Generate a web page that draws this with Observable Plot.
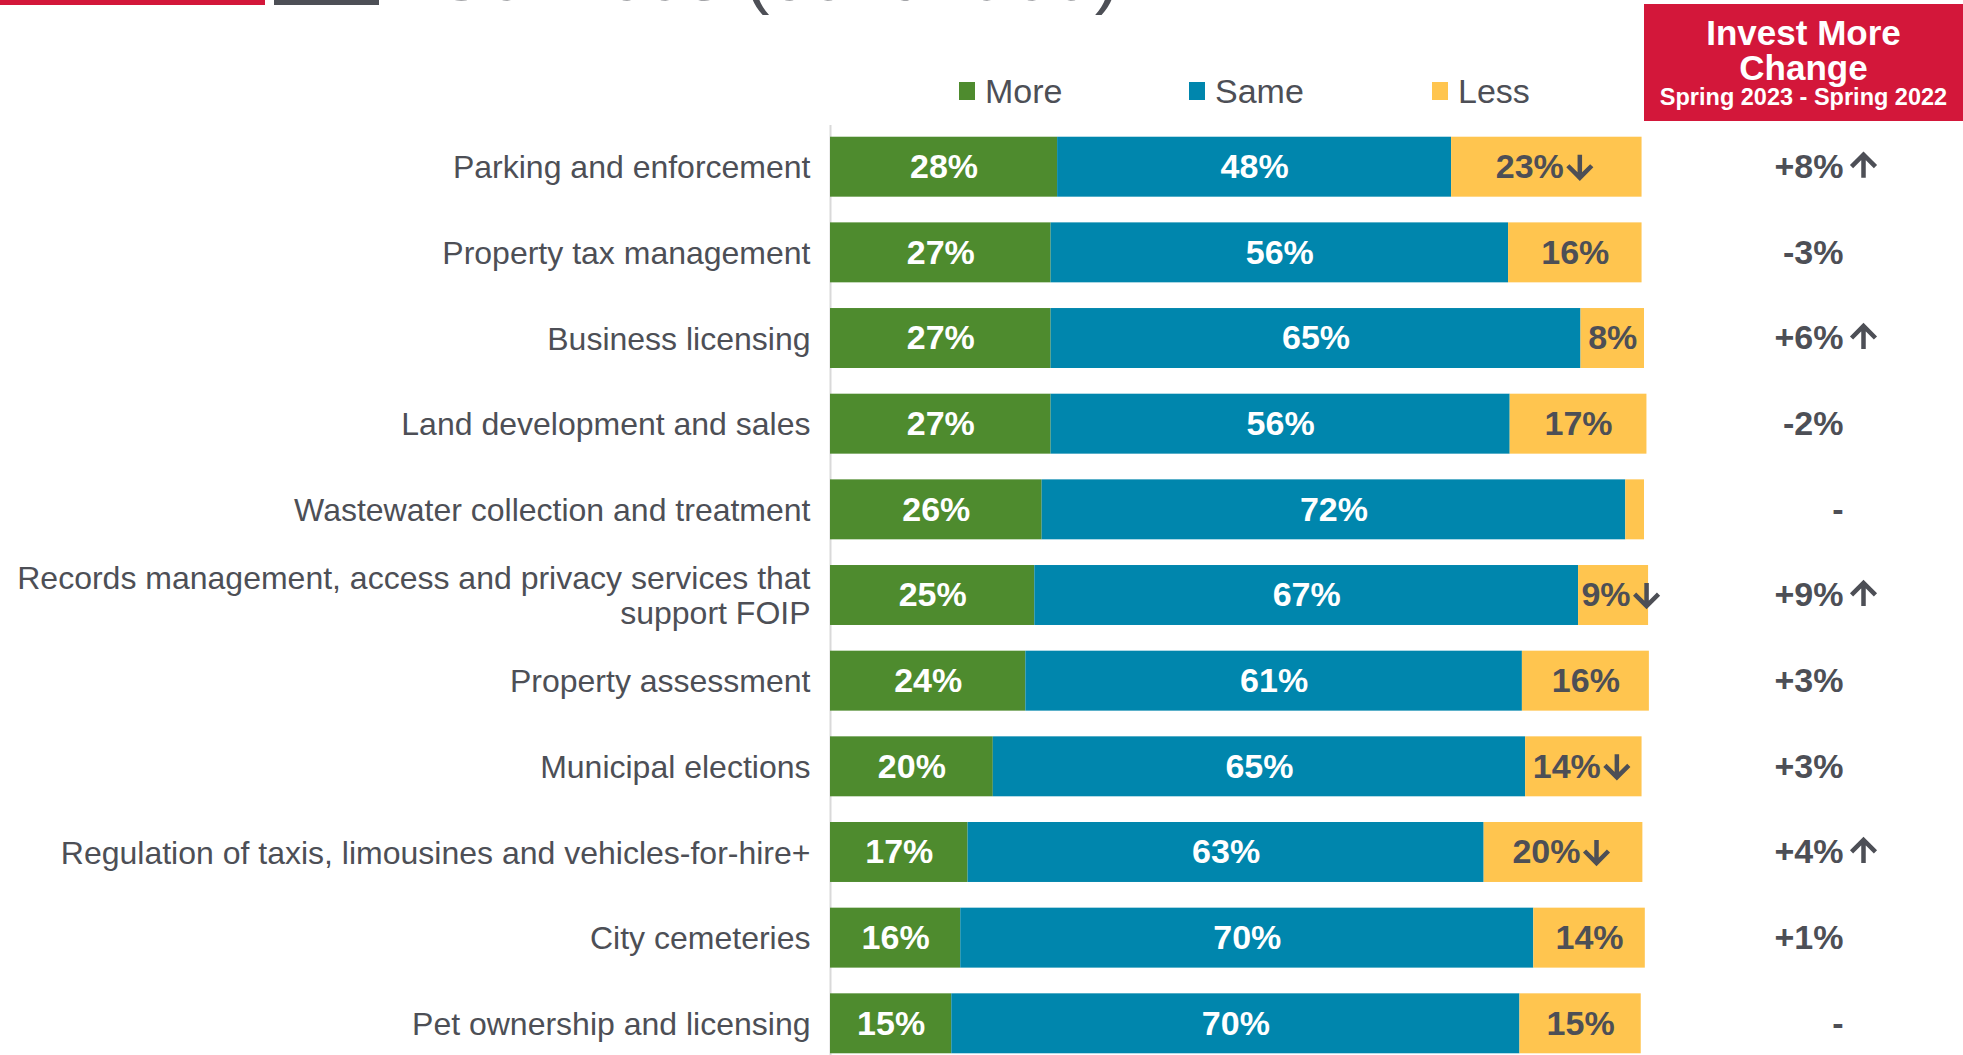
<!DOCTYPE html>
<html>
<head>
<meta charset="utf-8">
<script src="https://cdn.jsdelivr.net/npm/d3@7"></script>
<script src="https://cdn.jsdelivr.net/npm/@observablehq/plot@0.6"></script>
<style>
  html, body { margin: 0; padding: 0; background: #ffffff; }
  body { font-family: "Liberation Sans", Arial, sans-serif; color: #4D4F56; }
  #wrap { position: relative; width: 1963px; height: 1055px; overflow: hidden; }
  #chart { position: absolute; left: 0; top: 0; }
  .deco1 { position: absolute; left: 0; top: 0; width: 265px; height: 5px; background: #D3173A; }
  .deco2 { position: absolute; left: 274px; top: 0; width: 105px; height: 5px; background: #4D4F56; }
  .title { position: absolute; left: 436px; top: -63px; font-size: 75px; line-height: 75px; white-space: nowrap; color: #4D4F56; }
  .legend-item { position: absolute; top: 71px; height: 40px; display: flex; align-items: center; font-size: 34px; white-space: nowrap; color: #4D4F56; }
  .legend-item .sw { width: 16px; height: 18px; margin-right: 10px; }
  .box { position: absolute; left: 1644px; top: 4px; width: 319px; height: 117px; background: #D3173A; color: #fff; font-weight: bold; }
  .box div { position: absolute; left: 0; width: 100%; text-align: center; white-space: nowrap; }
</style>
</head>
<body>
<div id="wrap">
  <div class="deco1"></div>
  <div class="deco2"></div>
  <div class="title">Services (continued)</div>
  <div id="legend"></div>
  <div class="box">
    <div style="top:13px;font-size:35px;line-height:31px;">Invest More</div>
    <div style="top:48px;font-size:35px;line-height:31px;">Change</div>
    <div style="top:82px;font-size:23.5px;line-height:23px;">Spring 2023 - Spring 2022</div>
  </div>
  <div id="chart"></div>
</div>
<script>
// ---------- data ----------
const categories = [
  "Parking and enforcement",
  "Property tax management",
  "Business licensing",
  "Land development and sales",
  "Wastewater collection and treatment",
  "Records management, access and privacy services that\nsupport FOIP",
  "Property assessment",
  "Municipal elections",
  "Regulation of taxis, limousines and vehicles-for-hire+",
  "City cemeteries",
  "Pet ownership and licensing"
];
const seriesNames = ["More", "Same", "Less"];
const seriesColors = ["#4E8B2E", "#0086AD", "#FFC54F"];

const more = [27.9, 27.1, 27.1, 27.1, 26.0, 25.1, 24.0, 20.0, 16.9, 16.0, 14.9];
const same = [48.4, 56.2, 65.1, 56.4, 71.7, 66.8, 61.0, 65.4, 63.4, 70.4, 69.8];
const less = [23.4, 16.4, 7.8, 16.8, 2.3, 8.6, 15.6, 14.3, 19.5, 13.7, 14.9];

const moreLabels = ["28%", "27%", "27%", "27%", "26%", "25%", "24%", "20%", "17%", "16%", "15%"];
const sameLabels = ["48%", "56%", "65%", "56%", "72%", "67%", "61%", "65%", "63%", "70%", "70%"];
const lessLabels = ["23%", "16%", "8%", "17%", "", "9%", "16%", "14%", "20%", "14%", "15%"];
const lessDown = [true, false, false, false, false, true, false, true, true, false, false];

const changeLabels = ["+8%", "-3%", "+6%", "-2%", "-", "+9%", "+3%", "+3%", "+4%", "+1%", "-"];
const changeUp = [true, false, true, false, false, true, false, false, true, false, false];

// ---------- build tables ----------
const textGray = "#4D4F56";
const rows = [];
categories.forEach((c, i) => rows.push({cat: c, series: "More", value: more[i], label: moreLabels[i], down: false}));
categories.forEach((c, i) => rows.push({cat: c, series: "Same", value: same[i], label: sameLabels[i], down: false}));
categories.forEach((c, i) => rows.push({cat: c, series: "Less", value: less[i], label: lessLabels[i], down: lessDown[i]}));
const changes = categories.map((c, i) => ({cat: c, text: changeLabels[i], up: changeUp[i]}));

// ---------- legend ----------
const legendLeft = [959, 1189, 1432];
const legend = document.getElementById("legend");
seriesNames.forEach((s, i) => {
  const item = document.createElement("div");
  item.className = "legend-item";
  item.style.left = legendLeft[i] + "px";
  const sw = document.createElement("span");
  sw.className = "sw";
  sw.style.background = seriesColors[i];
  item.appendChild(sw);
  item.appendChild(document.createTextNode(s));
  legend.appendChild(item);
});

// ---------- chart ----------
// open-chevron arrow shape (points "up" before rotation); nothing drawn for zero length
const chevronArrow = {
  draw(context, l) {
    if (!(l > 0)) return;
    const w = l * 0.52;
    context.moveTo(0, 0);
    context.lineTo(0, -l + 1);
    context.moveTo(-w, w - l);
    context.lineTo(0, -l);
    context.lineTo(w, w - l);
  }
};
const arrowStyle = {shape: chevronArrow, stroke: textGray, strokeWidth: 4.5, strokeLinejoin: "miter", strokeLinecap: "butt"};

const stackOpts = {x: "value", y: "cat", z: "series", order: seriesNames};
const valueFont = {fontSize: 34, fontWeight: "bold"};
const chart = Plot.plot({
  width: 1963,
  height: 1055,
  marginLeft: 830,
  marginRight: 319,
  marginTop: 135,
  marginBottom: 0,
  style: {fontFamily: "'Liberation Sans', Arial, sans-serif", background: "transparent", overflow: "visible"},
  x: {domain: [0, 100], axis: null},
  y: {domain: categories, paddingInner: 0.3, paddingOuter: 0.02, round: false, label: null, axis: null},
  color: {domain: seriesNames, range: seriesColors},
  length: {type: "identity"},
  marks: [
    Plot.ruleX([0], {stroke: "#D9D9D9", strokeWidth: 2, insetTop: -10}),
    Plot.barX(rows, Plot.stackX({...stackOpts, fill: "series"})),
    // white labels in More / Same segments
    Plot.text(rows, Plot.stackX({...stackOpts, text: d => d.series === "Less" ? "" : d.label,
      fill: "white", ...valueFont})),
    // Less labels without arrow (centered)
    Plot.text(rows, Plot.stackX({...stackOpts, text: d => d.series === "Less" && !d.down ? d.label : "",
      fill: textGray, ...valueFont})),
    // Less labels with arrow: digits then arrow
    Plot.text(rows, Plot.stackX({...stackOpts, text: d => d.series === "Less" && d.down ? d.label : "",
      fill: textGray, textAnchor: "end", dx: 17, ...valueFont})),
    Plot.vector(rows, Plot.stackX({...stackOpts, length: d => d.series === "Less" && d.down ? 23 : 0,
      rotate: 180, dx: 33, dy: -1, ...arrowStyle})),
    Plot.axisY({tickSize: 0, tickPadding: 20, fontSize: 32, fill: textGray, lineHeight: 1.1, label: null}),
    Plot.text(changes, {y: "cat", text: "text", frameAnchor: "right", dx: 199, textAnchor: "end",
      fill: textGray, ...valueFont}),
    Plot.vector(changes, {y: "cat", frameAnchor: "right", dx: 219, dy: -1,
      length: d => d.up ? 23 : 0, rotate: 0, ...arrowStyle})
  ]
});
document.getElementById("chart").appendChild(chart);
</script>
</body>
</html>
